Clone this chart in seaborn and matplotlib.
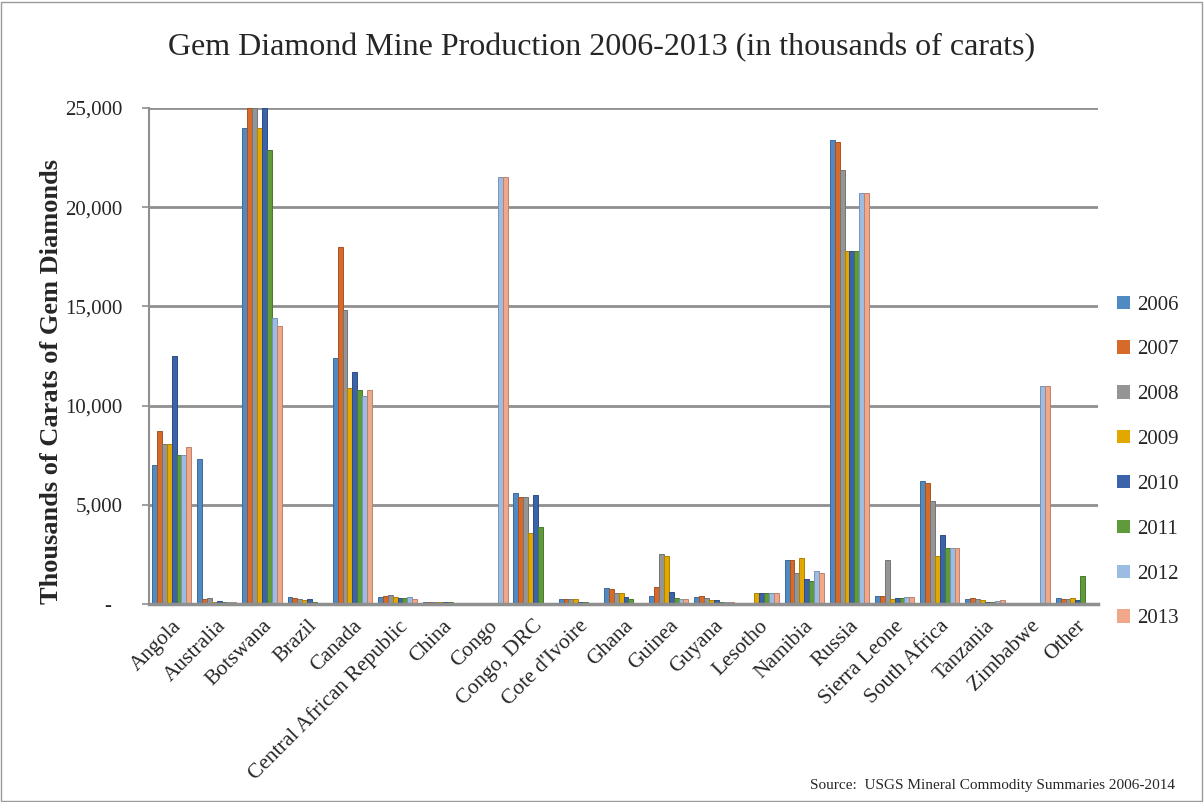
import numpy as np
import pandas as pd
import matplotlib
matplotlib.use("Agg")
import matplotlib.pyplot as plt
import matplotlib.colors as mcolors
from matplotlib.patches import Patch, Rectangle
from matplotlib.ticker import FixedLocator, FixedFormatter
import seaborn as sns

# Gem diamond production by country, thousands of carats
countries = ["Angola", "Australia", "Botswana", "Brazil", "Canada",
             "Central African Republic", "China", "Congo", "Congo, DRC",
             "Cote d'Ivoire", "Ghana", "Guinea", "Guyana", "Lesotho",
             "Namibia", "Russia", "Sierra Leone", "South Africa",
             "Tanzania", "Zimbabwe", "Other"]

y2006 = [7000, 7300, 24000, 350, 12400, 370, 100, 60, 5600, 230, 820, 400, 340, 60, 2200, 23400, 400, 6200, 250, 50, 300]
y2007 = [8700, 250, 25000, 300, 18000, 400, 100, 60, 5400, 230, 740, 870, 420, 60, 2200, 23300, 400, 6100, 280, 50, 250]
y2008 = [8050, 300, 25000, 250, 14800, 450, 100, 60, 5400, 230, 540, 2520, 290, 60, 1550, 21900, 2200, 5200, 250, 50, 250]
y2009 = [8050, 120, 24000, 200, 10900, 330, 100, 60, 3600, 230, 540, 2420, 200, 540, 2300, 17800, 240, 2400, 200, 50, 320]
y2010 = [12500, 150, 25000, 250, 11700, 300, 100, 60, 5500, 80, 340, 590, 200, 540, 1240, 17800, 280, 3500, 120, 50, 200]
y2011 = [7500, 100, 22900, 100, 10800, 300, 100, 60, 3900, 80, 270, 285, 100, 540, 1160, 17800, 300, 2800, 120, 50, 1400]
y2012 = [7500, 100, 14400, 50, 10500, 370, 50, 21500, 0, 0, 0, 250, 100, 550, 1660, 20700, 370, 2800, 150, 11000, 0]
y2013 = [7900, 100, 14000, 50, 10800, 250, 50, 21500, 0, 0, 0, 250, 100, 550, 1550, 20700, 350, 2800, 200, 11000, 60]

years = ["2006", "2007", "2008", "2009", "2010", "2011", "2012", "2013"]
series = [y2006, y2007, y2008, y2009, y2010, y2011, y2012, y2013]
year_colors = ["#4F8AC2", "#D66A2A", "#959595", "#E2A800",
               "#3B63AA", "#5F9A3D", "#9BBDE3", "#F1A78A"]

yticks = [0, 5000, 10000, 15000, 20000, 25000]
ytick_labels = ["-  ", "5,000", "10,000", "15,000", "20,000", "25,000"]

df = pd.DataFrame({
    "country": np.tile(countries, len(years)),
    "year": np.repeat(years, len(countries)),
    "carats": np.concatenate(series),
})

sns.set_style("white")
plt.rcParams["font.family"] = ["Liberation Serif", "DejaVu Serif"]

fig = plt.figure(figsize=(12.04, 8.02), dpi=100)
ax = fig.add_axes([149 / 1204, 198 / 802, (1098 - 149) / 1204, (604 - 108) / 802])

sns.barplot(data=df, x="country", y="carats", hue="year", hue_order=years,
            palette=year_colors, width=0.87, gap=0, ax=ax, legend=False,
            saturation=1, errorbar=None)

# darker rim on each column for a slight bevelled look
for cont, col in zip(ax.containers, year_colors):
    rgb = np.array(mcolors.to_rgb(col)) * 0.78
    for p in cont:
        p.set_edgecolor(rgb)
        p.set_linewidth(0.7)

ax.set_ylim(0, 25000)
ax.set_xlim(-0.5, len(countries) - 0.5)
ax.yaxis.set_major_locator(FixedLocator(yticks))
ax.yaxis.set_major_formatter(FixedFormatter(ytick_labels))

for v in yticks[1:]:
    ax.axhline(v, color="#8f8f8f", lw=2, zorder=0)

for s in ["top", "right"]:
    ax.spines[s].set_visible(False)
ax.spines["left"].set_color("#8f8f8f")
ax.spines["left"].set_linewidth(1.5)
ax.spines["bottom"].set_color("#8f8f8f")
ax.spines["bottom"].set_linewidth(2.5)

ax.tick_params(axis="y", which="major", direction="out", length=5, width=1.2,
               color="#8f8f8f", labelsize=15, pad=14, left=True)
ax.tick_params(axis="x", length=0, labelsize=15.5, pad=9)
plt.setp(ax.get_xticklabels(), rotation=45, ha="right", rotation_mode="anchor")
ax.set_xlabel("")
ax.set_ylabel("")

fig.text(52 / 1204, 1 - 381 / 802, "Thousands of Carats of Gem Diamonds",
         rotation=90, ha="center", va="center", fontsize=19, fontweight="bold")
fig.text(602 / 1204, 1 - 48 / 802,
         "Gem Diamond Mine Production 2006-2013 (in thousands of carats)",
         ha="center", va="center", fontsize=23)
fig.text(1175 / 1204, 1 - 786 / 802,
         "Source:  USGS Mineral Commodity Summaries 2006-2014",
         ha="right", va="center", fontsize=11)

handles = [Patch(facecolor=c, edgecolor="none", label=y)
           for y, c in zip(years, year_colors)]
fig.legend(handles=handles, loc="center left",
           bbox_to_anchor=(1107 / 1204, 1 - 462 / 802), frameon=False,
           fontsize=15, handlelength=0.6, handleheight=0.6,
           handletextpad=0.35, labelspacing=1.24, borderpad=0)

fig.patches.append(Rectangle((0.001, 0.001), 0.997, 0.997, transform=fig.transFigure,
                             fill=False, edgecolor="#9a9a9a", lw=1))

fig.savefig("out.png", dpi=100)
